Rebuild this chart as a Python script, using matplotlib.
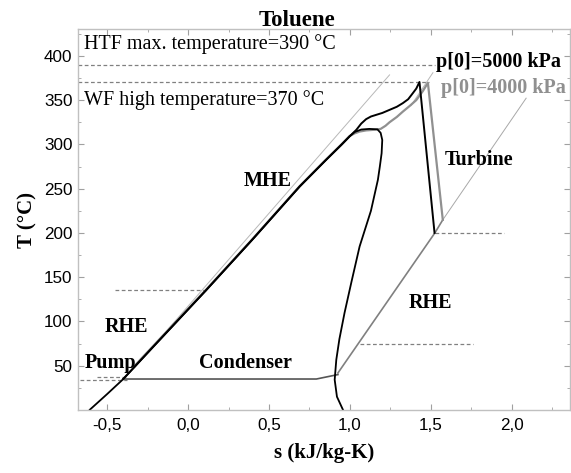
import matplotlib
matplotlib.use("Agg")
import matplotlib.pyplot as plt
from matplotlib.ticker import MultipleLocator, FixedLocator, FixedFormatter

# ---------------- data ----------------
# saturation dome (toluene)
dome_s = [-0.607, -0.50, -0.40, -0.20, 0.114, 0.40, 0.69, 0.85, 0.95, 0.998, 1.03, 1.07, 1.12,
          1.17, 1.19, 1.200, 1.196, 1.185, 1.173, 1.13, 1.06, 1.01, 0.967, 0.935, 0.916, 0.906, 0.92, 0.957]
dome_T = [0.3, 18.0, 35.0, 74.5, 135.8, 193.0, 252.5, 282.0, 300.0, 309.0, 314.0, 316.8, 317.5,
          317.0, 313.0, 305.0, 290.0, 275.0, 260.0, 225.0, 184.7, 145.0, 109.8, 80.0, 56.8, 34.2, 15.0, 0.3]

# cycle p[0]=5000 kPa (black)
c5_s = [-0.401, 0.114, 0.40, 0.69, 0.85, 0.95, 0.998, 1.04, 1.07, 1.10, 1.13, 1.163, 1.20, 1.245,
        1.29, 1.327, 1.36, 1.389, 1.41, 1.430, 1.523]
c5_T = [35.0, 135.8, 193.0, 252.5, 282.0, 300.0, 309.0, 316.5, 323.5, 328.5, 331.5, 333.4, 335.5, 339.0,
        342.5, 346.6, 351.0, 357.9, 363.0, 370.5, 200.0]

# cycle p[0]=4000 kPa (gray)
c4_s = [-0.33, 0.114, 0.40, 0.69, 0.85, 0.95, 0.998, 1.03, 1.06, 1.10, 1.15, 1.19, 1.22, 1.245,
        1.29, 1.327, 1.37, 1.41, 1.45, 1.482, 1.574]
c4_T = [50.0, 136.5, 193.5, 253.0, 282.5, 300.5, 309.5, 312.5, 314.5, 315.8, 316.5, 317.5, 321.0, 325.0,
        331.0, 337.0, 343.5, 350.0, 360.0, 369.5, 214.8]

# recuperator (RHE) low-pressure line
rhe_s = [0.926, 1.525, 1.574]
rhe_T = [41.8, 200.0, 214.8]
rhe_ext_s = [1.574, 2.089]
rhe_ext_T = [214.8, 352.2]

# condenser
cond_s = [-0.401, 0.793, 0.926]
cond_T = [35.0, 35.0, 40.0]

# heat-transfer-fluid lines (thin)
htf1_s = [-0.33, 1.245]
htf1_T = [48.0, 378.5]
htf2_s = [1.378, 1.513]
htf2_T = [344.0, 381.0]

# dashed reference lines: (T, s_start, s_end)
dash_T = [390, 370, 136, 200, 74.5, 34.2, 36.8]
dash_s0 = [-0.68, -0.68, -0.452, 1.525, 1.06, -0.668, -0.565]
dash_s1 = [1.523, 1.49, 0.114, 1.95, 1.76, -0.38, -0.38]

xtick_vals = [-0.5, 0.0, 0.5, 1.0, 1.5, 2.0]
xtick_labels = ["-0,5", "0,0", "0,5", "1,0", "1,5", "2,0"]
ytick_vals = [50, 100, 150, 200, 250, 300, 350, 400]

# ---------------- plot ----------------
fig = plt.figure(figsize=(5.71, 4.73), dpi=100)
ax = fig.add_axes([78/571, 1-410/473, (570-78)/571, (410-29.3)/473])

serif = "Liberation Serif"
sans = "Liberation Sans"

for T, a, b in zip(dash_T, dash_s0, dash_s1):
    ax.plot([a, b], [T, T], color="#808080", lw=0.9, dashes=(3, 2))

ax.plot(htf1_s, htf1_T, color="#b8b8b8", lw=0.7)
ax.plot(htf2_s, htf2_T, color="#b8b8b8", lw=0.7)
ax.plot(rhe_ext_s, rhe_ext_T, color="#a8a8a8", lw=0.7)
ax.plot(rhe_s, rhe_T, color="#808080", lw=1.2)
ax.plot(cond_s, cond_T, color="#555555", lw=1.2)
ax.plot(c4_s, c4_T, color="#909090", lw=1.6)
ax.plot(c5_s, c5_T, color="black", lw=1.4)
ax.plot(dome_s, dome_T, color="black", lw=1.3)

ax.set_xlim(-0.68, 2.36)
ax.set_ylim(0, 430)

ax.xaxis.set_major_locator(FixedLocator(xtick_vals))
ax.xaxis.set_major_formatter(FixedFormatter(xtick_labels))
ax.xaxis.set_minor_locator(MultipleLocator(0.25))
ax.yaxis.set_major_locator(FixedLocator(ytick_vals))
ax.yaxis.set_minor_locator(MultipleLocator(25))

ax.tick_params(which="both", direction="in", top=True, right=True, color="#a0a0a0")
ax.tick_params(which="major", length=4, width=0.8, labelsize=12.3, pad=4)
ax.tick_params(axis="x", which="major", pad=6)
ax.tick_params(which="minor", length=2.5, width=0.6)
for lab in ax.get_xticklabels() + ax.get_yticklabels():
    lab.set_fontfamily(sans)
for sp in ax.spines.values():
    sp.set_color("#c0c0c0")
    sp.set_linewidth(1.0)

ax.set_xlabel("s (kJ/kg-K)", fontfamily=serif, fontweight="bold", fontsize=15, labelpad=7)
ax.set_ylabel("T (°C)", fontfamily=serif, fontweight="bold", fontsize=15, labelpad=5)
fig.text(297/571, 1-20/473, "Toluene", fontfamily=serif, fontweight="bold", fontsize=16.5,
         ha="center", va="center")

txt = dict(fontfamily=serif, fontsize=14.5, va="center", ha="left")
ax.text(-0.644, 413.5, "HTF max. temperature=390 °C", **txt)
ax.text(-0.644, 350.3, "WF high temperature=370 °C", **txt)
ax.text(1.535, 393.2, "p[0]=5000 kPa", fontweight="bold", color="black", **txt)
ax.text(1.560, 363.9, "p[0]=4000 kPa", fontweight="bold", color="#909090", **txt)
ax.text(1.584, 282.6, "Turbine", fontweight="bold", **txt)
ax.text(0.344, 258.9, "MHE", fontweight="bold", **txt)
ax.text(-0.514, 94.0, "RHE", fontweight="bold", **txt)
ax.text(1.364, 120.8, "RHE", fontweight="bold", **txt)
ax.text(-0.638, 53.0, "Pump", fontweight="bold", **txt)
ax.text(0.068, 53.0, "Condenser", fontweight="bold", **txt)

fig.savefig("out.png", dpi=100)
